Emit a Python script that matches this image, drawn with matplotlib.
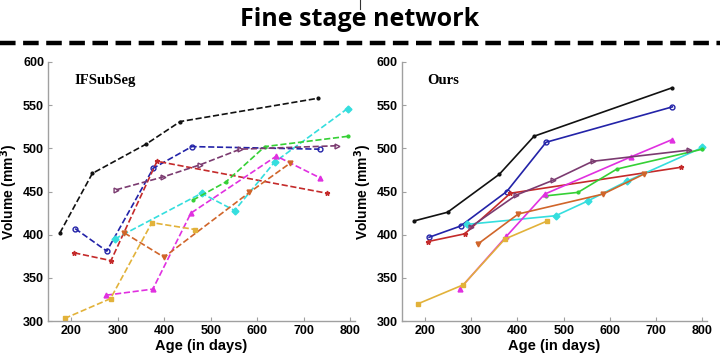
import matplotlib
matplotlib.use('Agg')
import matplotlib.pyplot as plt
from matplotlib.lines import Line2D

plt.rcParams.update({
    'font.family': 'Liberation Sans',
    'font.weight': 'bold',
    'axes.linewidth': 1.0,
})

# --- data: (ages, volumes) for each subject ---
series_names = ['black', 'blue', 'red', 'cyan', 'green', 'magenta', 'brown', 'yellow', 'purple']
colors = ['#111111', '#2323a8', '#c42a2a', '#35dede', '#35d035', '#e030e0', '#d0652a', '#e2b23a', '#7b3b70']
markers = ['.', 'o', '*', 'D', '.', '^', 'v', 's', '>']

ifsub_age = [
    [175, 245, 361, 434, 731],
    [208, 276, 376, 459, 734],
    [206, 285, 384, 750],
    [293, 480, 551, 637, 794],
    [461, 532, 616, 796],
    [275, 375, 457, 641, 734],
    [314, 399, 583, 671],
    [185, 284, 373, 466],
    [296, 398, 477, 563, 772],
]
ifsub_vol = [
    [402, 471, 505, 531, 558],
    [407, 381, 477, 502, 499],
    [379, 370, 485, 448],
    [395, 448, 428, 484, 546],
    [440, 461, 502, 514],
    [330, 337, 425, 491, 466],
    [402, 374, 449, 483],
    [303, 326, 414, 406],
    [452, 467, 481, 499, 503],
]

ours_age = [
    [177, 249, 361, 436, 734],
    [209, 277, 377, 462, 735],
    [206, 286, 385, 753],
    [292, 483, 552, 637, 800],
    [462, 531, 615, 800],
    [275, 376, 459, 645, 734],
    [314, 402, 585, 673],
    [185, 283, 373, 465],
    [299, 398, 477, 563, 772],
]
ours_vol = [
    [416, 426, 470, 514, 570],
    [397, 410, 450, 507, 548],
    [392, 401, 448, 478],
    [412, 422, 439, 462, 501],
    [445, 449, 476, 499],
    [337, 398, 447, 490, 510],
    [389, 424, 447, 470],
    [320, 342, 395, 416],
    [409, 446, 463, 485, 498],
]

xticks = [200, 300, 400, 500, 600, 700, 800]
yticks = [300, 350, 400, 450, 500, 550, 600]

fig = plt.figure(figsize=(7.2, 3.54), dpi=100)

# title and dashed separator
fig.text(0.5, 0.945, 'Fine stage network', ha='center', va='center',
         fontsize=18, fontweight='bold', family='Open Sans')
fig.add_artist(Line2D([0.5, 0.5], [0.975, 1.0], color='#333333', lw=0.8))
fig.add_artist(Line2D([0.0, 1.0], [0.878, 0.878], color='black', lw=3.2,
                      linestyle=(0, (3.5, 1.7))))

def draw_panel(ax, ages, vols, ls, label):
    for a, v, c, m in zip(ages, vols, colors, markers):
        mfc = 'none' if m in ('o', '>') else c
        ms = 4 if m == '.' else 3.5
        ax.plot(a, v, color=c, linestyle=ls, linewidth=1.2, marker=m,
                markersize=ms, markerfacecolor=mfc, markeredgecolor=c,
                markeredgewidth=1.0)
    ax.set_xlim(150, 810)
    ax.set_ylim(300, 600)
    ax.set_xticks(xticks)
    ax.set_yticks(yticks)
    ax.spines['top'].set_visible(False)
    ax.spines['right'].set_visible(False)
    for s in ('left', 'bottom'):
        ax.spines[s].set_color('#a0a0a0')
    ax.tick_params(direction='in', length=3, color='#a0a0a0', labelsize=9,
                   pad=3)
    for t in ax.get_xticklabels() + ax.get_yticklabels():
        t.set_fontweight('bold')
    ax.set_xlabel('Age (in days)', fontsize=10.5, fontweight='bold', labelpad=1)
    ax.set_ylabel('Volume (mm$^\\mathbf{3}$)', fontsize=10, fontweight='bold',
                  labelpad=2)
    ax.text(0.085, 0.93, label, transform=ax.transAxes, fontsize=10.5,
            fontweight='bold', family='Liberation Serif', va='center')

ax1 = fig.add_axes([0.067, 0.093, 0.426, 0.732])
draw_panel(ax1, ifsub_age, ifsub_vol, '--', 'IFSubSeg')

ax2 = fig.add_axes([0.558, 0.093, 0.424, 0.732])
draw_panel(ax2, ours_age, ours_vol, '-', 'Ours')

fig.savefig('out.png', dpi=100)
